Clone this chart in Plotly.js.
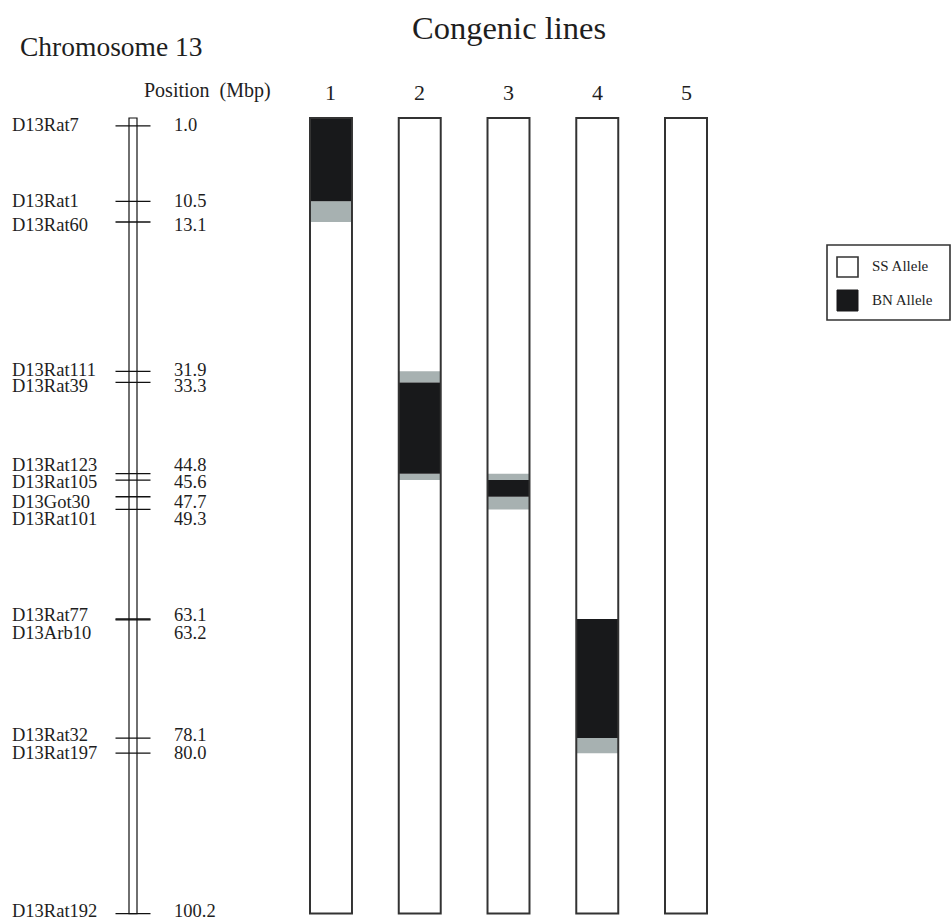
<!DOCTYPE html>
<html>
<head>
<meta charset="utf-8">
<script src="https://cdn.plot.ly/plotly-3.0.1.min.js"></script>
<style>html,body{margin:0;padding:0;background:#fff;}#chart{width:952px;height:921px;}</style>
</head>
<body>
<div id="chart"></div>
<script>
// ---- data ----
var markerNames = ['D13Rat7','D13Rat1','D13Rat60','D13Rat111','D13Rat39','D13Rat123','D13Rat105','D13Got30','D13Rat101','D13Rat77','D13Arb10','D13Rat32','D13Rat197','D13Rat192'];
var markerPos = [1.0, 10.5, 13.1, 31.9, 33.3, 44.8, 45.6, 47.7, 49.3, 63.1, 63.2, 78.1, 80.0, 100.2];
var chromStart = 0;
var chromEnd = 100.2;
var lanes = ['1','2','3','4','5'];
// BN allele (black) segments
var bnLane = ['1','2','3','4'];
var bnStart = [0, 33.3, 45.6, 63.1];
var bnEnd = [10.5, 44.8, 47.7, 78.1];
// boundary / uncertain (grey) segments
var grLane = ['1','2','2','3','3','4'];
var grStart = [10.5, 31.9, 44.8, 44.8, 47.7, 78.1];
var grEnd = [13.1, 33.3, 45.6, 45.6, 49.3, 80.0];

// ---- styling / layout helpers ----
var FONT = 'Liberation Serif, Times New Roman, serif';
var TXT = '#1e1e1e';
// pixel shift of each label relative to its tick (de-cluttering)
var labelShift = [-1, 0, 3, -1, 4, -9, 2, 5, 10, -4, 13, -3, 0, -3];
var chromX = 133;   // x (px-unit axis) of chromosome
var labelX = 10;
var posX = 172;

function diff(a, b) { return a.map(function (v, i) { return v - b[i]; }); }

var traces = [];
// chromosome body
traces.push({type:'bar', x:[chromX], base:[chromStart], y:[chromEnd - chromStart], width:8,
  xaxis:'x', yaxis:'y', marker:{color:'#fff', line:{color:'#111', width:1.2}}, hoverinfo:'skip', showlegend:false});
// marker ticks
traces.push({type:'scatter', mode:'markers', x:markerPos.map(function(){return chromX;}), y:markerPos,
  xaxis:'x', yaxis:'y', marker:{symbol:'line-ew', size:25, line:{color:'#111', width:1.3}}, hoverinfo:'skip', showlegend:false});
// lanes background (SS allele)
traces.push({type:'bar', x:lanes, base:lanes.map(function(){return chromStart;}), y:lanes.map(function(){return chromEnd - chromStart;}),
  width:0.473, xaxis:'x2', yaxis:'y', marker:{color:'#ffffff', line:{width:0}}, name:'SS Allele', showlegend:false, hoverinfo:'skip'});
// grey segments
traces.push({type:'bar', x:grLane, base:grStart, y:diff(grEnd, grStart), width:0.473,
  xaxis:'x2', yaxis:'y', marker:{color:'#a7b1b1', line:{width:0}}, showlegend:false, hoverinfo:'skip'});
// BN segments
traces.push({type:'bar', x:bnLane, base:bnStart, y:diff(bnEnd, bnStart), width:0.473,
  xaxis:'x2', yaxis:'y', marker:{color:'#18191b', line:{width:0}}, name:'BN Allele', showlegend:false, hoverinfo:'skip'});
// lane outlines
traces.push({type:'bar', x:lanes, base:lanes.map(function(){return chromStart;}), y:lanes.map(function(){return chromEnd - chromStart;}),
  width:0.473, xaxis:'x2', yaxis:'y', marker:{color:'rgba(0,0,0,0)', line:{color:'#333', width:2}}, showlegend:false, hoverinfo:'skip'});

var annotations = [];
markerNames.forEach(function (n, i) {
  annotations.push({xref:'x', yref:'y', x:labelX, y:markerPos[i], text:n, showarrow:false, xanchor:'left', yanchor:'middle',
    yshift:-labelShift[i], font:{family:FONT, size:18.5, color:TXT}});
  annotations.push({xref:'x', yref:'y', x:posX, y:markerPos[i], text:markerPos[i].toFixed(1), showarrow:false, xanchor:'left', yanchor:'middle',
    yshift:-labelShift[i], font:{family:FONT, size:18.5, color:TXT}});
});
lanes.forEach(function (l, i) {
  annotations.push({xref:'x2', yref:'paper', x:i, y:1 - 92/921, text:l, showarrow:false, xanchor:'center', yanchor:'middle',
    font:{family:FONT, size:22, color:TXT}});
});
annotations.push({xref:'paper', yref:'paper', x:18/952, y:1 - 46/921, text:'Chromosome 13', showarrow:false, xanchor:'left', yanchor:'middle',
  font:{family:FONT, size:27.5, color:TXT}});
annotations.push({xref:'paper', yref:'paper', x:509/952, y:1 - 28/921, text:'Congenic lines', showarrow:false, xanchor:'center', yanchor:'middle',
  font:{family:FONT, size:32.5, color:TXT}});
annotations.push({xref:'paper', yref:'paper', x:142/952, y:1 - 90/921, text:'Position&nbsp;&nbsp;(Mbp)', showarrow:false, xanchor:'left', yanchor:'middle',
  font:{family:FONT, size:20, color:TXT}});
// legend texts
annotations.push({xref:'paper', yref:'paper', x:870/952, y:1 - 266/921, text:'SS Allele', showarrow:false, xanchor:'left', yanchor:'middle',
  font:{family:FONT, size:15, color:TXT}});
annotations.push({xref:'paper', yref:'paper', x:870/952, y:1 - 300/921, text:'BN Allele', showarrow:false, xanchor:'left', yanchor:'middle',
  font:{family:FONT, size:15, color:TXT}});

function px(x){return x/952;}
function py(y){return 1 - y/921;}
var shapes = [
  {type:'rect', xref:'paper', yref:'paper', x0:px(827), x1:px(950), y0:py(320), y1:py(245), line:{color:'#333', width:1.6}, fillcolor:'rgba(0,0,0,0)'},
  {type:'rect', xref:'paper', yref:'paper', x0:px(837), x1:px(858), y0:py(277), y1:py(257), line:{color:'#333', width:1.6}, fillcolor:'#fff'},
  {type:'rect', xref:'paper', yref:'paper', x0:px(837), x1:px(858), y0:py(311), y1:py(290), line:{color:'#18191b', width:1}, fillcolor:'#18191b'}
];

var hidden = {visible:false, showgrid:false, zeroline:false, fixedrange:true};
var layout = {
  width:952, height:921, margin:{l:0, r:0, t:0, b:0},
  paper_bgcolor:'#fff', plot_bgcolor:'rgba(0,0,0,0)',
  barmode:'overlay', showlegend:false,
  xaxis:Object.assign({domain:[0, 0.3], range:[0, 285.6]}, hidden),
  xaxis2:Object.assign({domain:[286.6/952, 730.4/952], type:'category', categoryorder:'array', categoryarray:lanes, range:[-0.5, 4.5], anchor:'y'}, hidden),
  yaxis:Object.assign({range:[(921-118)/7.94, -118/7.94], domain:[0,1]}, hidden),
  annotations:annotations, shapes:shapes
};
Plotly.newPlot('chart', traces, layout, {staticPlot:true, displayModeBar:false});
</script>
</body>
</html>
